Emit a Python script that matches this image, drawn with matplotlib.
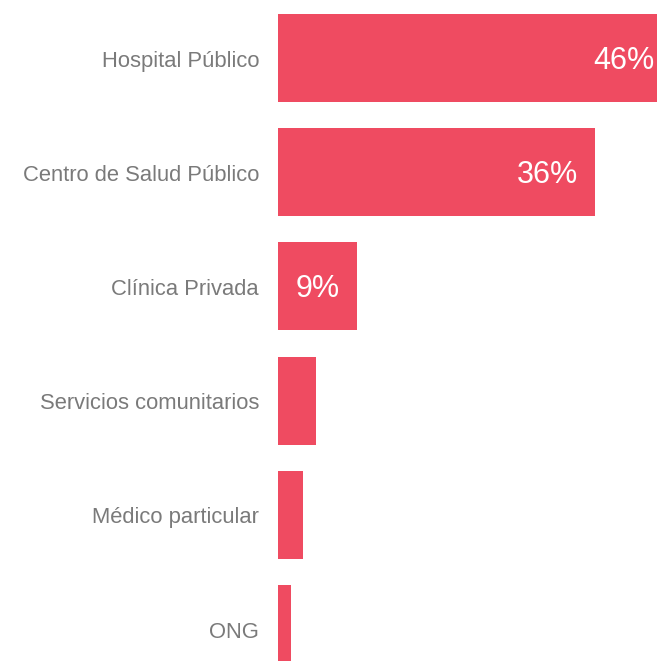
# Horizontal bar chart: dónde se atienden (porcentajes)

import numpy as np
import matplotlib.pyplot as plt

plt.rcParams['font.family'] = ['Liberation Sans', 'DejaVu Sans']

# data
categories = ["Hospital Público", "Centro de Salud Público", "Clínica Privada",
              "Servicios comunitarios", "Médico particular", "ONG"]
values = [46, 36, 9, 4.3, 2.8, 1.5]
value_labels = ["46%", "36%", "9%", "", "", ""]

bar_color = "#EF4B61"
text_gray = "#7a7a7a"

px_per_unit = 8.8   # ~8.8 px per percent
fig = plt.figure(figsize=(6.57, 6.61), dpi=100)
# axes starts where the bars start and runs to the right edge (first bar gets clipped)
ax = fig.add_axes([278 / 657, 0, 1 - 278 / 657, 1])

y = np.arange(len(categories))
ax.barh(y, values, height=0.77, color=bar_color, clip_on=True)

xmax = 379 / px_per_unit
ax.set_xlim(0, xmax)
ax.set_ylim((661 - 58) / 114.2, -58 / 114.2)

# category labels on the left
for i, cat in enumerate(categories):
    ax.annotate(cat, xy=(0, i), xycoords="data", xytext=(-19, -3),
                textcoords="offset pixels", ha="right", va="center",
                fontsize=15.8, color=text_gray, annotation_clip=False)

# value labels inside the bars, kept inside the visible part of the bar
for i, (v, lab) in enumerate(zip(values, value_labels)):
    if lab:
        x_txt = min(v - 17 / px_per_unit, xmax - 2 / px_per_unit)
        ax.annotate(lab, xy=(x_txt, i), xycoords="data", xytext=(0, -3),
                    textcoords="offset pixels", ha="right", va="center",
                    fontsize=22, color="white", annotation_clip=False)

ax.axis("off")

fig.savefig("out.png", dpi=100)
